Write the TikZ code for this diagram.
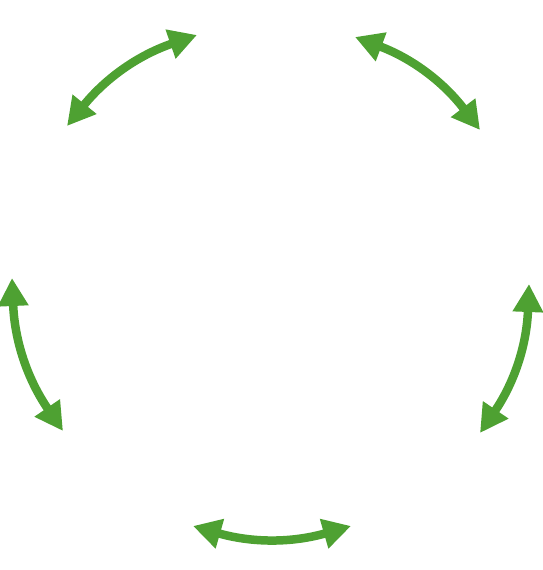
\documentclass[tikz,border=0pt]{standalone}
\usepackage{tikz}
\usetikzlibrary{arrows.meta}
\definecolor{cyclegreen}{RGB}{78,161,50}
\tikzset{%
  cyclearrow/.style={draw=cyclegreen, line width=0.17cm,
                     {Triangle[length=0.56cm,width=0.58cm]}-{Triangle[length=0.56cm,width=0.58cm]},
                     bend left=16},
}

\begin{document}
\begin{tikzpicture}[x=0.02cm, y=-0.02cm]

    % frame of the picture
    \useasboundingbox (0,0) rectangle (542,570);

    % Define the tips of the arrows
    \coordinate (TLa) at (67,126);
    \coordinate (TLb) at (197,35);
    \coordinate (TRa) at (355,37);
    \coordinate (TRb) at (480,130);
    \coordinate (Ra) at (529,284);
    \coordinate (Rb) at (480,433);
    \coordinate (Ba) at (351,526);
    \coordinate (Bb) at (193,526);
    \coordinate (La) at (63,431);
    \coordinate (Lb) at (12,278);

    %arrows round the cycle
    \draw[cyclearrow] (TLa) to (TLb);
    \draw[cyclearrow] (TRa) to (TRb);
    \draw[cyclearrow] (Ra) to (Rb);
    \draw[cyclearrow] (Ba) to (Bb);
    \draw[cyclearrow] (La) to (Lb);

\end{tikzpicture}
\end{document}
